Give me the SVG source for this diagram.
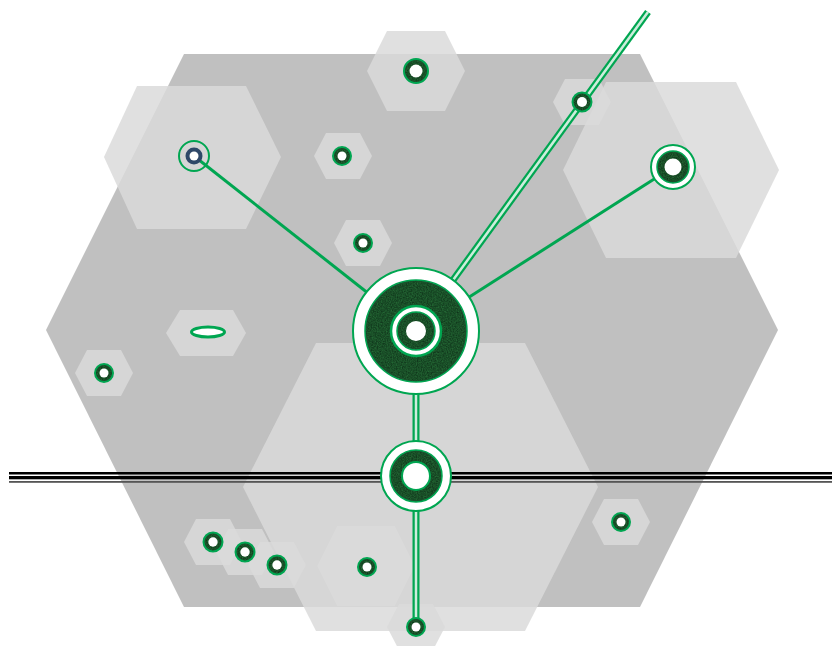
<svg xmlns="http://www.w3.org/2000/svg" width="832" height="646" viewBox="0 0 832 646">
<defs>
<style>
.hx{fill:#dadada;fill-opacity:0.84}
.ln{stroke:#00a651;stroke-width:3;fill:none}
.dbl{stroke:#00a651;stroke-width:7;fill:none}
.gap{stroke:#ffffff;stroke-opacity:0.8;stroke-width:2.5;fill:none}
.ring{fill:#1c4f2d;stroke:#00a651;stroke-width:2;filter:url(#tex)}
.wh{fill:#ffffff}
.wo{fill:#ffffff;stroke:#00a651;stroke-width:2}
.dk{fill:#1c4f2d;stroke:#00a651;stroke-width:1.5;filter:url(#tex)}
</style>
<filter id="tex" x="-10%" y="-10%" width="120%" height="120%" color-interpolation-filters="sRGB">
<feTurbulence type="fractalNoise" baseFrequency="0.8" numOctaves="2" seed="3" result="n"/>
<feColorMatrix in="n" type="matrix" values="0.12 0 0 0 0.04  0.3 0 0 0 0.16  0.15 0 0 0 0.08  0 0 0 0 1" result="c"/>
<feComposite in="c" in2="SourceGraphic" operator="in" result="t"/>
<feMorphology in="SourceAlpha" operator="erode" radius="1.5" result="e"/>
<feComposite in="t" in2="e" operator="in" result="t2"/>
<feMerge><feMergeNode in="SourceGraphic"/><feMergeNode in="t2"/></feMerge>
</filter>
<polygon id="sh" points="-29,0 -17,-23 17,-23 29,0 17,23 -17,23"/>
<polygon id="mh" points="-49,0 -29,-40 29,-40 49,0 29,40 -29,40"/>
</defs>

<g id="background">
<polygon points="184,54 640,54 778,330 640,607 184,607 46,330" fill="#c0c0c0"/>
</g>

<g id="hexes">
<polygon class="hx" points="104,157 137,86 246,86 281,157 246,229 137,229"/>
<polygon class="hx" points="563,170 606,82 736,82 779,170 736,258 606,258"/>
<polygon class="hx" points="243,487 316,343 525,343 598,487 525,631 316,631"/>
<use href="#mh" class="hx" x="416" y="71"/>
<use href="#mh" class="hx" x="366" y="566"/>
<use href="#sh" class="hx" x="582" y="102"/>
<use href="#sh" class="hx" x="343" y="156"/>
<use href="#sh" class="hx" x="363" y="243"/>
<use href="#sh" class="hx" x="104" y="373"/>
<use href="#sh" class="hx" x="213" y="542"/>
<use href="#sh" class="hx" x="245" y="552"/>
<use href="#sh" class="hx" x="277" y="565"/>
<use href="#sh" class="hx" x="621" y="522"/>
<use href="#sh" class="hx" x="416" y="627"/>
<polygon class="hx" points="166,333 180,310 233,310 246,333 233,356 180,356"/>
</g>

<g id="connectors">
<line class="ln" x1="194" y1="156" x2="416" y2="331"/>
<line class="ln" x1="673" y1="167" x2="416" y2="331"/>
<line class="dbl" x1="648" y1="12" x2="416" y2="331"/>
<line class="gap" x1="648" y1="12" x2="416" y2="331"/>
<line class="dbl" x1="416" y1="331" x2="416" y2="627"/>
<line class="gap" x1="416" y1="331" x2="416" y2="627"/>
</g>

<g id="rail">
<rect x="9" y="472" width="823" height="2.5" fill="#000000"/>
<rect x="9" y="476" width="823" height="3.3" fill="#000000"/>
<rect x="9" y="481" width="823" height="1.8" fill="#555555"/>
</g>

<g id="node-center">
<circle class="wo" cx="416" cy="331" r="63"/>
<circle class="dk" cx="416" cy="331" r="51"/>
<circle cx="416" cy="331" r="25" fill="#ffffff" stroke="#00a651" stroke-width="2.5"/>
<circle class="dk" cx="416" cy="331" r="19" stroke-width="2"/>
<circle class="wh" cx="416" cy="331" r="10"/>
</g>

<g id="node-junction">
<circle class="wo" cx="416" cy="476" r="35"/>
<circle class="dk" cx="416" cy="476" r="26"/>
<circle cx="416" cy="476" r="14" fill="#ffffff" stroke="#00a651" stroke-width="2"/>
</g>

<g id="node-right">
<circle class="wo" cx="673" cy="167" r="22"/>
<circle class="dk" cx="673" cy="167" r="16"/>
<circle class="wh" cx="673" cy="167" r="8.5"/>
</g>

<g id="node-left">
<circle cx="194" cy="156" r="15" fill="none" stroke="#00a651" stroke-width="2"/>
<circle cx="194" cy="156" r="8.5" fill="#2f4868"/>
<circle class="wh" cx="194" cy="156" r="4.5"/>
</g>

<g id="node-top">
<circle class="ring" cx="416" cy="71" r="12"/>
<circle class="wh" cx="416" cy="71" r="6.5"/>
</g>

<g id="node-a"><circle class="ring" cx="582" cy="102" r="9.5"/><circle class="wh" cx="582" cy="102" r="5"/></g>
<g id="node-b"><circle class="ring" cx="342" cy="156" r="9"/><circle class="wh" cx="342" cy="156" r="4.5"/></g>
<g id="node-c"><circle class="ring" cx="363" cy="243" r="9"/><circle class="wh" cx="363" cy="243" r="4.5"/></g>
<g id="node-d"><circle class="ring" cx="104" cy="373" r="9"/><circle class="wh" cx="104" cy="373" r="4.5"/></g>
<g id="node-e"><circle class="ring" cx="213" cy="542" r="9.5"/><circle class="wh" cx="213" cy="542" r="4.7"/></g>
<g id="node-f"><circle class="ring" cx="245" cy="552" r="9.5"/><circle class="wh" cx="245" cy="552" r="4.7"/></g>
<g id="node-g"><circle class="ring" cx="277" cy="565" r="9.5"/><circle class="wh" cx="277" cy="565" r="4.7"/></g>
<g id="node-h"><circle class="ring" cx="367" cy="567" r="9"/><circle class="wh" cx="367" cy="567" r="4.5"/></g>
<g id="node-i"><circle class="ring" cx="416" cy="627" r="9"/><circle class="wh" cx="416" cy="627" r="4.5"/></g>
<g id="node-j"><circle class="ring" cx="621" cy="522" r="9"/><circle class="wh" cx="621" cy="522" r="4.5"/></g>

<g id="node-ellipse">
<ellipse cx="208" cy="332" rx="16.5" ry="5" fill="#ffffff" stroke="#00a651" stroke-width="3"/>
</g>
</svg>
